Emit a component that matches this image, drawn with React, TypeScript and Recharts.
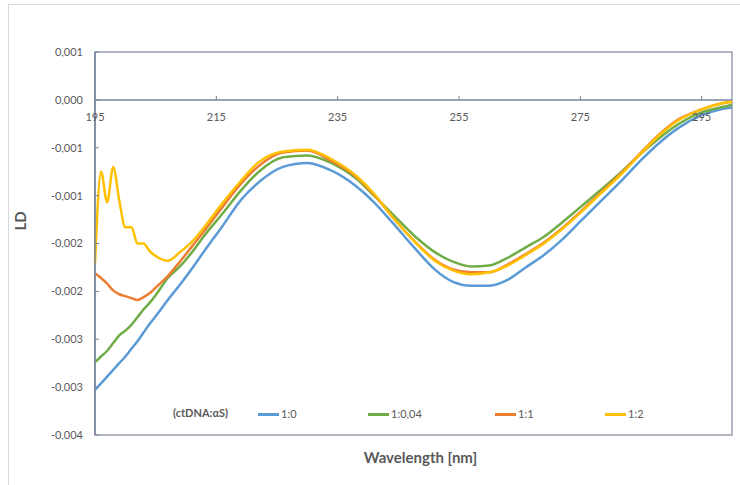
import { LineChart, Line, XAxis, YAxis, ReferenceLine, ReferenceArea, Legend } from 'recharts'

// wavelength grid (nm) the curves were read at
const wavelengths = [
  195, 196, 197, 198, 199, 200, 201, 202, 203, 204, 205, 207, 209, 211, 213, 216, 219, 222, 226, 230,
  234, 238, 241, 244, 248, 251, 254, 257, 260, 263, 266, 269, 272, 275, 278, 282, 285, 288, 291, 295,
  298, 300,
]

// LD values, ctDNA:aS = 1:0
const ld_1_0 = [
  -0.00303, -0.00296, -0.00289, -0.00282, -0.00275, -0.00268, -0.0026, -0.00252, -0.00243, -0.00234,
  -0.00226, -0.00209, -0.00193, -0.00176, -0.00158, -0.00132, -0.00105, -0.00086, -0.0007, -0.00066,
  -0.00074, -0.0009, -0.00107, -0.00128, -0.00157, -0.00177, -0.0019, -0.00194, -0.00194, -0.00188,
  -0.00175, -0.00162, -0.00146, -0.00127, -0.00108, -0.00083, -0.00063, -0.00045, -0.0003, -0.00016,
  -0.0001, -0.00008,
]

// 1:0,04
const ld_1_004 = [
  -0.00274, -0.00268, -0.00262, -0.00254, -0.00246, -0.00241, -0.00235, -0.00227, -0.00219, -0.00212,
  -0.00204, -0.00186, -0.00174, -0.00159, -0.00142, -0.00119, -0.00095, -0.00075, -0.0006, -0.00058,
  -0.00066, -0.00082, -0.001, -0.00119, -0.00144, -0.00159, -0.00169, -0.00174, -0.00173, -0.00165,
  -0.00154, -0.00143, -0.00128, -0.00112, -0.00096, -0.00074, -0.00056, -0.0004, -0.00026, -0.00013,
  -0.00008, -0.00005,
]

// 1:1
const ld_1_1 = [
  -0.00181, -0.00186, -0.00192, -0.00199, -0.00203, -0.00205, -0.00207, -0.00209, -0.00206, -0.00202,
  -0.00196, -0.00184, -0.00169, -0.00153, -0.00137, -0.00112, -0.00088, -0.00069, -0.00055, -0.00053,
  -0.00064, -0.0008, -0.00099, -0.00122, -0.0015, -0.00167, -0.00177, -0.0018, -0.0018, -0.00172,
  -0.00161, -0.00149, -0.00134, -0.00117, -0.00099, -0.00075, -0.00055, -0.00036, -0.00021, -0.0001,
  -0.00004, -0.00002,
]

// 1:2
const ld_1_2 = [
  -0.00171, -0.00075, -0.00107, -0.0007, -0.00105, -0.00133, -0.00133, -0.0015, -0.0015, -0.00158,
  -0.00163, -0.00168, -0.00159, -0.00148, -0.00133, -0.00108, -0.00085, -0.00065, -0.00054, -0.00052,
  -0.00062, -0.00079, -0.00098, -0.00122, -0.0015, -0.00168, -0.00178, -0.00182, -0.0018, -0.00173,
  -0.00162, -0.0015, -0.00135, -0.00118, -0.001, -0.00076, -0.00056, -0.00037, -0.00022, -0.0001,
  -0.00004, -0.00002,
]

const seriesNames = ['1:0', '1:0,04', '1:1', '1:2']
const seriesColors = ['#5B9BD5', '#70AD47', '#ED7D31', '#FFC000']
const seriesValues = [ld_1_0, ld_1_004, ld_1_1, ld_1_2]

const xTicks = [195, 215, 235, 255, 275, 295]
const yTicks = [0.0005, 0, -0.0005, -0.001, -0.0015, -0.002, -0.0025, -0.003, -0.0035]
const yTickLabels = ['0,001', '0,000', '-0,001', '-0,001', '-0,002', '-0,002', '-0,003', '-0,003', '-0,004']

const data = wavelengths.map((wl, i) => {
  const row: Record<string, number> = { wl }
  seriesValues.forEach((vals, s) => (row['s' + s] = vals[i]))
  return row
})

// layout
const CHART_W = 731
const CHART_H = 480
const MARGIN = { top: 47, right: 8, bottom: 20, left: 0 }
const Y_AXIS_W = 86
const X_AXIS_H = 30
const X_MIN = 195
const X_MAX = 300
const Y_MIN = -0.0035
const Y_MAX = 0.0005
const PLOT_H = CHART_H - MARGIN.top - MARGIN.bottom - X_AXIS_H
const ZERO_Y = MARGIN.top + (PLOT_H * Y_MAX) / (Y_MAX - Y_MIN)
const AXIS = '#76839A'
const BOX = '#98A1AE'
const TEXT = '#595959'
const LEGEND_X = [249, 359, 486, 596]

// x axis is drawn on the zero line, like Excel does
const XTick = ({ x, payload }: any) => (
  <g>
    {payload.value !== X_MIN && <line x1={x} x2={x} y1={ZERO_Y - 4} y2={ZERO_Y} stroke={AXIS} />}
    <text x={x} y={ZERO_Y + 21} textAnchor="middle" fill={TEXT} fontSize={11}>
      {payload.value}
    </text>
  </g>
)

const LegendBox = () => (
  <div style={{ position: 'relative', height: 0, fontSize: 11, color: TEXT, lineHeight: '14px' }}>
    <span style={{ position: 'absolute', left: 164, top: 401, fontWeight: 700, whiteSpace: 'nowrap' }}>
      (ctDNA:αS)
    </span>
    {seriesNames.map((name, i) => (
      <div
        key={name}
        style={{ position: 'absolute', left: LEGEND_X[i], top: 402, display: 'flex', alignItems: 'center', whiteSpace: 'nowrap' }}
      >
        <span style={{ display: 'inline-block', width: 21, height: 3, background: seriesColors[i] }} />
        <span style={{ marginLeft: 2 }}>{name}</span>
      </div>
    ))}
  </div>
)

const App = () => {
  return (
    <div style={{ position: 'fixed', left: 0, top: 0, width: 740, height: 485, overflow: 'hidden', background: '#fff' }}>
      <div
        style={{
          position: 'absolute',
          left: 8,
          top: 4,
          width: 740,
          height: 490,
          border: '1px solid #D9D9D9',
          fontFamily: 'Lato, "Open Sans", sans-serif',
        }}
      >
        <LineChart width={CHART_W} height={CHART_H} data={data} margin={MARGIN}>
          <ReferenceArea x1={X_MIN} x2={X_MAX} y1={Y_MIN} y2={Y_MAX} fill="none" stroke={BOX} strokeWidth={1.5} />
          <XAxis
            dataKey="wl"
            type="number"
            domain={[X_MIN, X_MAX]}
            ticks={xTicks}
            height={X_AXIS_H}
            axisLine={false}
            tickLine={false}
            tick={<XTick />}
            label={{ value: 'Wavelength [nm]', position: 'insideBottom', offset: 2, dx: 7, fill: TEXT, fontSize: 15, fontWeight: 700 }}
          />
          <YAxis
            type="number"
            domain={[Y_MIN, Y_MAX]}
            ticks={yTicks}
            width={Y_AXIS_W}
            interval={0}
            tickFormatter={(v: number) => yTickLabels[yTicks.findIndex((t) => Math.abs(t - v) < 1e-9)]}
            axisLine={{ stroke: AXIS, strokeWidth: 1.5 }}
            tickLine={{ stroke: AXIS }}
            tickSize={-4}
            tickMargin={16}
            tick={{ fill: TEXT, fontSize: 11 }}
            label={{ value: 'LD', angle: -90, position: 'insideLeft', offset: 12, dy: -13, fill: TEXT, fontSize: 15, fontWeight: 700 }}
          />
          <ReferenceLine y={0} stroke={AXIS} strokeWidth={1.5} />
          {seriesNames.map((name, i) => (
            <Line
              key={name}
              type="monotone"
              dataKey={'s' + i}
              name={name}
              stroke={seriesColors[i]}
              strokeWidth={2.5}
              dot={false}
              isAnimationActive={false}
            />
          ))}
          <Legend content={<LegendBox />} wrapperStyle={{ left: 0, top: 0, width: CHART_W, height: 0 }} />
        </LineChart>
      </div>
    </div>
  )
}

export default App
